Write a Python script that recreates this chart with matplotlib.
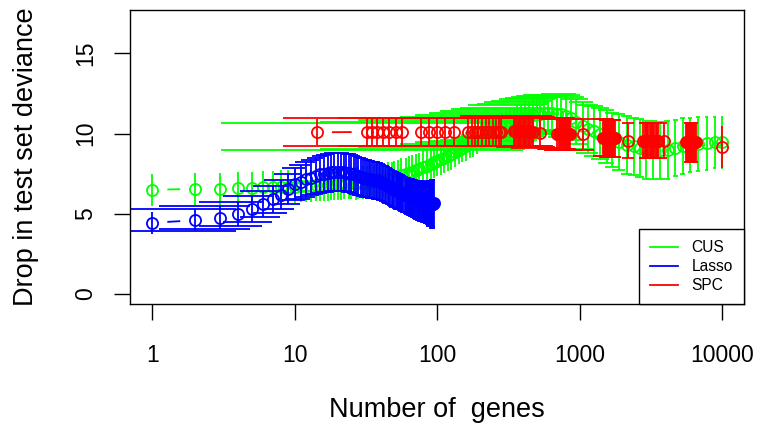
import numpy as np
import matplotlib
matplotlib.use('Agg')
import matplotlib.pyplot as plt
from matplotlib.collections import LineCollection
from matplotlib.lines import Line2D
from matplotlib.ticker import FixedLocator, NullLocator

plt.rcParams['font.family'] = ['Liberation Sans', 'DejaVu Sans']

# ---- CUS (green) ----
cus_genes = [1, 2, 3, 4, 5, 6, 7, 8, 9, 10,
             11, 12, 13, 14, 15, 16, 17, 18, 19, 20,
             21, 22, 24, 25, 27, 28, 30, 32, 34, 36,
             38, 40, 42, 45, 48, 50, 53, 56, 60, 63,
             67, 71, 75, 80, 85, 90, 95, 100, 106, 112,
             119, 126, 134, 142, 150, 160, 170, 180, 190, 203,
             215, 228, 240, 255, 270, 287, 305, 325, 345, 365,
             390, 415, 440, 470, 500, 530, 560, 600, 640, 690,
             740, 800, 870, 950, 1050, 1150, 1270, 1400, 1550, 1700,
             1900, 2150, 2400, 2650, 2950, 3300, 3700, 4150, 4700, 5300,
             6000, 6800, 7800, 8900, 10000]
cus_drop = [6.50, 6.55, 6.55, 6.60, 6.60, 6.65, 6.65, 6.70, 6.70, 6.70,
            6.75, 6.75, 6.75, 6.80, 6.80, 6.80, 6.80, 6.85, 6.85, 6.85,
            6.85, 6.90, 6.90, 6.90, 6.90, 6.95, 6.95, 6.95, 7.00, 7.00,
            7.05, 7.05, 7.10, 7.15, 7.20, 7.25, 7.30, 7.40, 7.45, 7.55,
            7.60, 7.70, 7.80, 7.90, 8.00, 8.10, 8.20, 8.30, 8.40, 8.50,
            8.60, 8.70, 8.85, 9.00, 9.10, 9.20, 9.35, 9.45, 9.60, 9.82,
            9.90, 10.00, 10.10, 10.20, 10.30, 10.40, 10.50, 10.60, 10.70, 10.80,
            10.90, 11.00, 11.05, 11.15, 11.20, 11.25, 11.30, 11.30, 11.30, 11.25,
            11.20, 11.10, 10.95, 10.75, 10.50, 10.30, 10.15, 10.00, 9.80, 9.60,
            9.45, 9.30, 9.20, 9.10, 9.00, 9.00, 8.95, 9.00, 9.10, 9.20,
            9.30, 9.35, 9.40, 9.45, 9.45]
cus_se = [1.00, 1.00, 1.00, 1.00, 1.00, 1.00, 1.00, 1.00, 1.00, 1.00,
          1.00, 1.00, 1.00, 1.00, 1.00, 1.00, 1.00, 1.00, 1.00, 1.00,
          1.00, 1.00, 1.00, 1.00, 1.02, 1.02, 1.02, 1.02, 1.05, 1.05,
          1.05, 1.05, 1.05, 1.05, 1.05, 1.05, 1.05, 1.05, 1.05, 1.05,
          1.05, 1.03, 1.02, 1.00, 1.00, 0.98, 0.98, 0.97, 0.96, 0.96,
          0.95, 0.95, 0.92, 0.92, 0.90, 0.90, 0.88, 0.88, 0.86, 0.85,
          0.85, 0.85, 0.85, 0.85, 0.85, 0.88, 0.90, 0.90, 0.92, 0.95,
          0.95, 0.98, 1.00, 1.00, 1.02, 1.05, 1.05, 1.08, 1.10, 1.15,
          1.25, 1.30, 1.35, 1.40, 1.45, 1.50, 1.55, 1.60, 1.65, 1.70,
          1.75, 1.80, 1.80, 1.80, 1.80, 1.80, 1.80, 1.80, 1.75, 1.75,
          1.70, 1.70, 1.65, 1.60, 1.60]

# ---- Lasso (blue) ----
lasso_genes = [1, 2, 3, 4, 5, 6, 7, 8, 9, 10,
               11, 12, 13, 14, 15, 16, 17, 18, 19, 20,
               21, 22, 23, 24, 25, 26, 27, 28, 29, 30,
               31, 32, 33, 34, 35, 36, 37, 38, 39, 40,
               41, 42, 43, 44, 45, 46, 47, 48, 49, 50,
               51, 52, 53, 54, 55, 56, 57, 58, 59, 60,
               61, 62, 63, 64, 65, 66, 67, 68, 69, 70,
               71, 72, 73, 74, 75, 76, 77, 78, 79, 80,
               81, 82, 83, 84, 85, 86, 87, 88, 89, 90,
               91, 92, 93, 94, 95]
lasso_drop = [4.44, 4.60, 4.75, 5.00, 5.30, 5.60, 5.90, 6.20, 6.55, 6.85,
              7.00, 7.15, 7.25, 7.35, 7.45, 7.50, 7.55, 7.60, 7.60, 7.60,
              7.60, 7.60, 7.55, 7.55, 7.50, 7.45, 7.40, 7.35, 7.30, 7.25,
              7.22, 7.20, 7.18, 7.15, 7.12, 7.10, 7.08, 7.05, 7.02, 7.00,
              6.95, 6.90, 6.85, 6.80, 6.75, 6.70, 6.65, 6.60, 6.55, 6.50,
              6.48, 6.45, 6.42, 6.40, 6.35, 6.30, 6.28, 6.25, 6.20, 6.15,
              6.12, 6.10, 6.08, 6.05, 6.02, 6.00, 5.98, 5.95, 5.92, 5.90,
              5.88, 5.85, 5.82, 5.80, 5.80, 5.80, 5.78, 5.75, 5.75, 5.75,
              5.72, 5.70, 5.70, 5.70, 5.68, 5.65, 5.65, 5.65, 5.62, 5.60,
              5.60, 5.60, 5.60, 5.62, 5.65]
lasso_se = [0.68, 0.70, 0.72, 0.75, 0.78, 0.82, 0.86, 0.90, 0.95, 1.00,
            1.05, 1.08, 1.10, 1.12, 1.14, 1.16, 1.18, 1.20, 1.20, 1.20,
            1.20, 1.20, 1.20, 1.20, 1.20, 1.20, 1.20, 1.20, 1.20, 1.20,
            1.19, 1.18, 1.17, 1.16, 1.16, 1.15, 1.15, 1.15, 1.15, 1.15,
            1.15, 1.15, 1.15, 1.15, 1.15, 1.15, 1.15, 1.15, 1.15, 1.15,
            1.15, 1.15, 1.15, 1.15, 1.15, 1.15, 1.15, 1.15, 1.15, 1.15,
            1.15, 1.16, 1.17, 1.18, 1.18, 1.19, 1.19, 1.20, 1.20, 1.21,
            1.22, 1.22, 1.23, 1.24, 1.25, 1.25, 1.25, 1.26, 1.27, 1.28,
            1.29, 1.30, 1.30, 1.32, 1.35, 1.38, 1.40, 1.42, 1.45, 1.48,
            1.50, 1.50, 1.50, 1.48, 1.45]

# ---- SPC (red) ----
spc_genes = [14.3, 32, 35, 38, 42, 46, 51, 57,
             77, 88, 100, 114, 131,
             165, 175, 185, 195, 208, 220, 232, 245, 258, 270, 280,
             345, 352, 360, 367, 375, 383, 391, 399, 407, 415, 424, 433,
             442, 451, 460, 470, 530,
             700, 712, 724, 736, 748, 760, 773, 786, 799, 812, 826, 840,
             855, 1060,
             1450, 1475, 1500, 1525, 1550, 1575, 1600, 1625, 1650, 1680,
             1710, 1740, 1770, 2200,
             2800, 2860, 2920, 2980, 3040, 3100, 3160, 3220, 3290, 3360,
             3430, 3500, 3580, 3900,
             5600, 5700, 5800, 5900, 6000, 6100, 6200, 6300, 6400, 6500,
             6600,
             10000]
spc_drop = [10.08, 10.10, 10.10, 10.10, 10.10, 10.10, 10.10, 10.10,
            10.10, 10.10, 10.10, 10.10, 10.10,
            10.10, 10.10, 10.10, 10.10, 10.10, 10.10, 10.10, 10.10, 10.10, 10.10, 10.10,
            10.15, 10.15, 10.15, 10.15, 10.15, 10.15, 10.15, 10.15, 10.15, 10.15, 10.15, 10.15,
            10.15, 10.12, 10.10, 10.10, 10.02,
            10.00, 10.00, 10.00, 9.98, 9.98, 9.95, 9.95, 9.95, 9.95, 9.95, 9.95, 9.95,
            9.95, 9.95,
            9.75, 9.75, 9.75, 9.75, 9.75, 9.72, 9.72, 9.70, 9.70, 9.70,
            9.70, 9.70, 9.70, 9.55,
            9.55, 9.55, 9.55, 9.55, 9.55, 9.55, 9.55, 9.55, 9.55, 9.55,
            9.55, 9.55, 9.55, 9.55,
            9.45, 9.45, 9.45, 9.45, 9.45, 9.45, 9.45, 9.45, 9.45, 9.45,
            9.45,
            9.15]
spc_se = [0.82, 0.85, 0.85, 0.85, 0.85, 0.85, 0.85, 0.85,
          0.88, 0.88, 0.88, 0.88, 0.88,
          0.90, 0.90, 0.90, 0.90, 0.90, 0.90, 0.90, 0.90, 0.90, 0.90, 0.90,
          0.92, 0.92, 0.92, 0.92, 0.92, 0.92, 0.92, 0.92, 0.92, 0.92, 0.92, 0.92,
          0.92, 0.92, 0.92, 0.92, 0.92,
          0.95, 0.95, 0.95, 0.95, 0.95, 0.95, 0.95, 0.95, 0.95, 0.95, 0.95, 0.95,
          0.95, 0.95,
          1.15, 1.15, 1.15, 1.15, 1.15, 1.15, 1.15, 1.15, 1.15, 1.15,
          1.15, 1.15, 1.15, 1.10,
          1.10, 1.10, 1.10, 1.10, 1.10, 1.10, 1.10, 1.10, 1.10, 1.10,
          1.10, 1.10, 1.10, 1.10,
          1.20, 1.20, 1.20, 1.20, 1.20, 1.20, 1.20, 1.20, 1.20, 1.20,
          1.20,
          1.25]

series = [("CUS", "#00ff00", cus_genes, cus_drop, cus_se),
          ("Lasso", "#0000ff", lasso_genes, lasso_drop, lasso_se),
          ("SPC", "#ff0000", spc_genes, spc_drop, spc_se)]

LW = 1.3

fig = plt.figure(figsize=(7.61, 4.32), dpi=100)
ax = fig.add_axes([130 / 761, 128 / 432, 614 / 761, 294 / 432])
ax.set_xscale('log')
ax.set_xlim(10 ** -0.157, 10 ** 4.155)
ax.set_ylim(-0.62, 17.7)


def gapped_lines(ax, x, y, color, gap=15.0):
    # lines between points that stop short of each circle, like R's type="b"
    pts = ax.transData.transform(np.column_stack([x, y]))
    segs = []
    for p0, p1 in zip(pts[:-1], pts[1:]):
        d = np.hypot(*(p1 - p0))
        if d <= 2 * gap:
            continue
        u = (p1 - p0) / d
        segs.append([p0 + u * gap, p1 - u * gap])
    inv = ax.transData.inverted()
    segs = [inv.transform(np.array(s)) for s in segs]
    ax.add_collection(LineCollection(segs, colors=color, linewidths=LW))


def error_bars(ax, x, drop, se, color, width=0.02):
    x = np.asarray(x, float)
    up = np.asarray(drop) + np.asarray(se)
    lo = np.asarray(drop) - np.asarray(se)
    barw = (x.max() - x.min()) * width
    ax.vlines(x, lo, up, colors=color, linewidth=LW)
    ok = (x - barw) > 0  # caps reaching below zero vanish on the log axis
    ax.hlines(up[ok], x[ok] - barw, x[ok] + barw, colors=color, linewidth=LW)
    ax.hlines(lo[ok], x[ok] - barw, x[ok] + barw, colors=color, linewidth=LW)


for name, col, g, d, s in series:
    ax.plot(g, d, 'o', ms=8, mfc='none', mec=col, mew=LW)
    gapped_lines(ax, g, d, col)
    error_bars(ax, g, d, s, col)

ax.xaxis.set_major_locator(FixedLocator([1, 10, 100, 1000, 10000]))
ax.xaxis.set_minor_locator(NullLocator())
ax.set_xticklabels(['1', '10', '100', '1000', '10000'])
ax.set_yticks([0, 5, 10, 15])
ax.set_yticklabels(['0', '5', '10', '15'], rotation=90, va='center')
ax.tick_params(axis='both', direction='out', length=11.5, width=1.0,
               labelsize=16.5)
ax.tick_params(axis='x', pad=17)
ax.tick_params(axis='y', pad=12)
for sp in ax.spines.values():
    sp.set_linewidth(1.0)

ax.set_xlabel('Number of  genes', fontsize=19.5)
ax.xaxis.set_label_coords(0.5, -0.315)
ax.xaxis.label.set_va('top')
ax.set_ylabel('Drop in test set deviance', fontsize=19.5)
ax.yaxis.set_label_coords(-0.148, 0.5)

handles = [Line2D([], [], color=c, lw=LW) for _, c, _, _, _ in series]
leg = ax.legend(handles, [n for n, *_ in series], loc='lower right',
                borderaxespad=0, fancybox=False, edgecolor='black',
                framealpha=1, fontsize=11.2, handlelength=1.8,
                handletextpad=0.9, borderpad=0.7, labelspacing=0.25)
leg.get_frame().set_linewidth(1.0)

fig.savefig('out.png', dpi=100)
